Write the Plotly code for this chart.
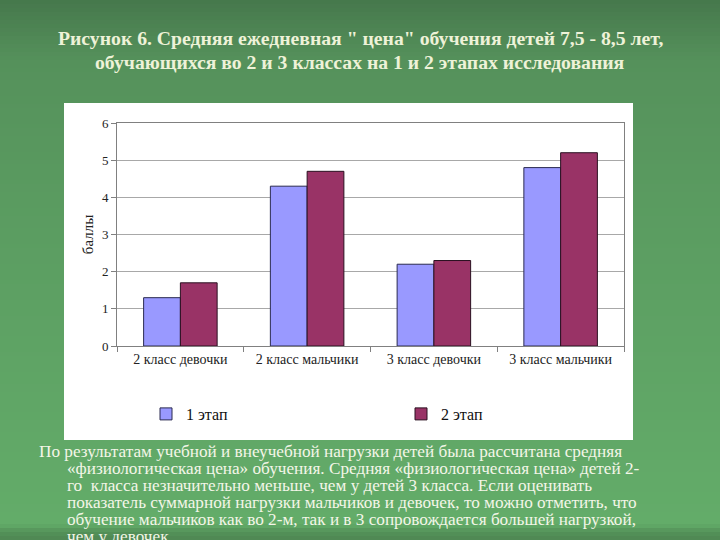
import plotly.graph_objects as go

categories = ["2 класс девочки", "2 класс мальчики", "3 класс девочки", "3 класс мальчики"]
stage1 = [1.3, 4.3, 2.2, 4.8]
stage2 = [1.7, 4.7, 2.3, 5.2]
series_names = ["1 этап", "2 этап"]
y_ticks = [0, 1, 2, 3, 4, 5, 6]

title_lines = [
    "Рисунок 6. Средняя ежедневная \" цена\" обучения детей 7,5 - 8,5 лет,",
    "обучающихся во 2 и 3 классах на 1 и 2 этапах исследования",
]
body_lines = [
    "По результатам учебной и внеучебной нагрузки детей была рассчитана средняя",
    "«физиологическая цена» обучения. Средняя «физиологическая цена» детей 2-",
    "го  класса незначительно меньше, чем у детей 3 класса. Если оценивать",
    "показатель суммарной нагрузки мальчиков и девочек, то можно отметить, что",
    "обучение мальчиков как во 2-м, так и в 3 сопровождается большей нагрузкой,",
    "чем у девочек.",
]

W, H = 720, 540
SERIF = "Liberation Serif, Times New Roman, serif"

fig = go.Figure()
fig.add_trace(go.Bar(x=categories, y=stage1, name=series_names[0], legend="legend",
                     marker=dict(color="#9999FF", line=dict(color="#2a2a50", width=1))))
fig.add_trace(go.Bar(x=categories, y=stage2, name=series_names[1], legend="legend2",
                     marker=dict(color="#993366", line=dict(color="#2a1020", width=1))))

l, r, t, b = 117, 96, 123, 194
pw, ph = W - l - r, H - t - b
def px_x(x):
    return (x - l) / pw
def px_y(y):
    return (H - b - y) / ph

# background gradient (decoration)
stops = [(0, (70, 120, 76)), (60, (85, 145, 91)), (200, (90, 155, 96)),
         (400, (96, 166, 102)), (524, (99, 172, 105)), (532, (84, 146, 89)), (540, (78, 134, 82))]
def col(y):
    for (y0, c0), (y1, c1) in zip(stops[:-1], stops[1:]):
        if y0 <= y <= y1:
            tt = (y - y0) / (y1 - y0) if y1 > y0 else 0
            return "rgb(%d,%d,%d)" % tuple(round(a + (bb - a) * tt) for a, bb in zip(c0, c1))
    return "rgb(78,134,82)"
shapes = []
step = 4
for y in range(0, H, step):
    shapes.append(dict(type="rect", xref="paper", yref="paper", layer="below",
                       x0=px_x(0), x1=px_x(W), y0=px_y(y + step), y1=px_y(y),
                       fillcolor=col(y + step / 2), line=dict(width=0)))
# white chart box
shapes.append(dict(type="rect", xref="paper", yref="paper", layer="below",
                   x0=px_x(64), x1=px_x(633), y0=px_y(440), y1=px_y(103),
                   fillcolor="white", line=dict(width=0)))

annotations = []
for i, line in enumerate(title_lines):
    annotations.append(dict(text="<b>%s</b>" % line, xref="paper", yref="paper",
                            x=px_x(360), y=px_y(38.5 + i * 23.3), xanchor="center", yanchor="middle",
                            showarrow=False, font=dict(family=SERIF, size=19.7, color="#eef2d8")))
for i, line in enumerate(body_lines):
    annotations.append(dict(text=line, xref="paper", yref="paper",
                            x=px_x(37 if i == 0 else 65), y=px_y(451.5 + i * 16.9),
                            xanchor="left", yanchor="middle",
                            showarrow=False, font=dict(family=SERIF, size=17.2, color="#f4f6e8")))

legend_common = dict(orientation="h", xref="container", yref="container",
                     yanchor="middle", xanchor="left",
                     font=dict(family=SERIF, size=16, color="#111"),
                     bgcolor="rgba(0,0,0,0)")

fig.update_layout(
    width=W, height=H,
    margin=dict(l=l, r=r, t=t, b=b, pad=0),
    paper_bgcolor="#5a9a60",
    plot_bgcolor="rgba(0,0,0,0)",
    barmode="group",
    bargap=0.42,
    bargroupgap=0,
    shapes=shapes,
    annotations=annotations,
    showlegend=True,
    legend=dict(x=146 / W, y=1 - 414 / H, **legend_common),
    legend2=dict(x=401 / W, y=1 - 414 / H, **legend_common),
    xaxis=dict(type="category", tickson="boundaries", ticks="outside", ticklen=5,
               tickcolor="#808080", showline=True, linecolor="#808080", mirror=True,
               tickfont=dict(family=SERIF, size=14, color="#222"), showgrid=False),
    yaxis=dict(range=[0, 6], tickvals=y_ticks, ticks="outside", ticklen=5,
               tickcolor="#808080", showline=True, linecolor="#808080", mirror=True,
               gridcolor="#a8a8a8", gridwidth=1, zeroline=False,
               tickfont=dict(family=SERIF, size=13, color="#222"),
               title=dict(text="баллы", font=dict(family=SERIF, size=15, color="#222"), standoff=4)),
)

fig.write_html("out.html", config={"displayModeBar": False},
               post_script="document.body.style.margin='0';document.body.style.overflow='hidden';")
